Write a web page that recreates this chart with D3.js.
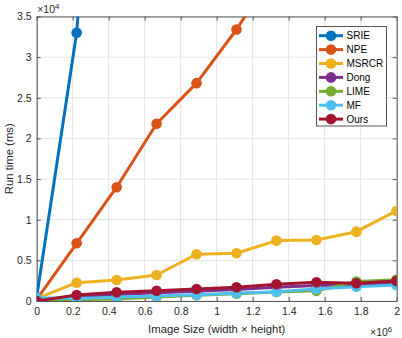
<!DOCTYPE html>
<html><head><meta charset="utf-8">
<script src="https://cdn.jsdelivr.net/npm/d3@7"></script>
<style>body{margin:0;background:#fff}svg{display:block}text{font-family:"Liberation Sans",Arial,Helvetica,sans-serif}</style>
</head><body>
<svg id="c" width="402" height="338"></svg>
<script>
const xValues = [0, 0.222, 0.444, 0.666, 0.888, 1.11, 1.332, 1.554, 1.776, 1.998];
const seriesNames = ["SRIE", "NPE", "MSRCR", "Dong", "LIME", "MF", "Ours"];
const SRIE  = [0.05, 3.30, 9.6, 16, 23, 30, 38, 46, 55, 64];
const NPE   = [0.02, 0.71, 1.40, 2.18, 2.68, 3.34, 4.1, 4.9, 5.7, 6.5];
const MSRCR = [0.03, 0.225, 0.259, 0.32, 0.575, 0.587, 0.743, 0.751, 0.853, 1.108];
const Dong  = [0.01, 0.05, 0.08, 0.10, 0.12, 0.14, 0.17, 0.19, 0.20, 0.22];
const LIME  = [0.01, 0.015, 0.025, 0.05, 0.07, 0.09, 0.11, 0.125, 0.24, 0.26];
const MF    = [0.04, 0.03, 0.045, 0.06, 0.078, 0.095, 0.115, 0.148, 0.176, 0.197];
const Ours  = [0.0, 0.074, 0.107, 0.127, 0.148, 0.169, 0.206, 0.23, 0.218, 0.246];
const xTicks = [0, 0.2, 0.4, 0.6, 0.8, 1, 1.2, 1.4, 1.6, 1.8, 2];
const yTicks = [0, 0.5, 1, 1.5, 2, 2.5, 3, 3.5];
const colors = ["#0072BD", "#D95319", "#EDB120", "#7E2F8E", "#77AC30", "#4DBEEE", "#A2142F"];

const seriesData = [SRIE, NPE, MSRCR, Dong, LIME, MF, Ours];
const svg = d3.select("#c");
const L = 36.7, R = 396.7, T = 16.5, B = 301;
const x = d3.scaleLinear().domain([0, 2]).range([L, R]);
const y = d3.scaleLinear().domain([0, 3.5]).range([B, T]);
const axisCol = "#555", textCol = "#262626", gridCol = "#e3e3e3";

svg.append("defs").append("clipPath").attr("id", "clip")
  .append("rect").attr("x", L).attr("y", T).attr("width", R - L).attr("height", B - T);

// grid
const g = svg.append("g");
g.selectAll(".gx").data(xTicks).join("line")
  .attr("x1", d => x(d)).attr("x2", d => x(d)).attr("y1", T).attr("y2", B)
  .attr("stroke", gridCol).attr("stroke-width", 1);
g.selectAll(".gy").data(yTicks).join("line")
  .attr("y1", d => y(d)).attr("y2", d => y(d)).attr("x1", L).attr("x2", R)
  .attr("stroke", gridCol).attr("stroke-width", 1);

// axes
const fmt = d => (d === 0 ? "0" : d3.format("~g")(d));
const xAxis = svg.append("g").attr("transform", `translate(0,${B})`)
  .call(d3.axisBottom(x).tickValues(xTicks).tickFormat(fmt).tickSizeInner(-4).tickSizeOuter(0).tickPadding(7));
const yAxis = svg.append("g").attr("transform", `translate(${L},0)`)
  .call(d3.axisLeft(y).tickValues(yTicks).tickFormat(fmt).tickSizeInner(-4).tickSizeOuter(0).tickPadding(5));
const xTop = svg.append("g").attr("transform", `translate(0,${T})`)
  .call(d3.axisTop(x).tickValues(xTicks).tickFormat("").tickSizeInner(-4).tickSizeOuter(0));
const yRight = svg.append("g").attr("transform", `translate(${R},0)`)
  .call(d3.axisRight(y).tickValues(yTicks).tickFormat("").tickSizeInner(-4).tickSizeOuter(0));
[xAxis, yAxis, xTop, yRight].forEach(a => {
  a.selectAll("path").attr("stroke", axisCol).attr("stroke-width", 1);
  a.selectAll("line").attr("stroke", axisCol);
  a.selectAll("text").attr("fill", textCol).attr("font-size", 10.5).attr("font-family", "Liberation Sans, Arial, sans-serif");
});

// series
const lines = svg.append("g").attr("clip-path", "url(#clip)");
const lineGen = d3.line().x((d, i) => x(xValues[i])).y(d => y(d));
seriesData.forEach((vals, k) => {
  const s = lines.append("g");
  s.append("path").datum(vals).attr("d", lineGen).attr("fill", "none")
    .attr("stroke", colors[k]).attr("stroke-width", 3).attr("stroke-linejoin", "round");
  s.selectAll("circle").data(vals).join("circle")
    .attr("cx", (d, i) => x(xValues[i])).attr("cy", d => y(d)).attr("r", 5.3)
    .attr("fill", colors[k]);
});

// exponent labels
const e4 = svg.append("text").attr("x", L + 0.5).attr("y", 13).attr("font-size", 10.5).attr("fill", textCol);
e4.append("tspan").text("×10");
e4.append("tspan").attr("dy", -4).attr("font-size", 8).text("4");
const e6 = svg.append("text").attr("x", 370).attr("y", 336).attr("font-size", 10.5).attr("fill", textCol);
e6.append("tspan").text("×10");
e6.append("tspan").attr("dy", -4).attr("font-size", 8).text("6");

// axis labels
svg.append("text").attr("x", (L + R) / 2).attr("y", 333).attr("text-anchor", "middle")
  .attr("font-size", 11.3).attr("fill", textCol).text("Image Size (width × height)");
svg.append("text").attr("transform", `translate(13,${(T + B) / 2}) rotate(-90)`).attr("text-anchor", "middle")
  .attr("font-size", 11.3).attr("fill", textCol).text("Run time (ms)");

// legend
const lg = svg.append("g");
lg.append("rect").attr("x", 316.5).attr("y", 26.5).attr("width", 70).attr("height", 99.5)
  .attr("fill", "#fff").attr("stroke", axisCol).attr("stroke-width", 1);
seriesNames.forEach((n, k) => {
  const yy = 35.7 + k * 13.9;
  lg.append("line").attr("x1", 319).attr("x2", 343).attr("y1", yy).attr("y2", yy)
    .attr("stroke", colors[k]).attr("stroke-width", 3);
  lg.append("circle").attr("cx", 331).attr("cy", yy).attr("r", 5.3).attr("fill", colors[k]);
  lg.append("text").attr("x", 346.5).attr("y", yy + 3.7).attr("font-size", 10).attr("fill", "#000").text(n);
});
</script>
</body></html>
